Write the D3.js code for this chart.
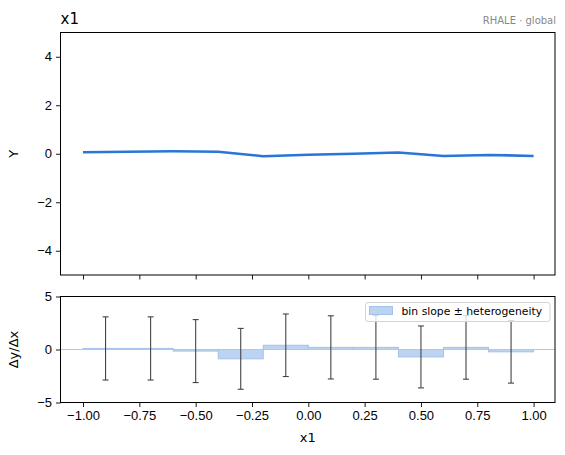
<!DOCTYPE html>
<html>
<head>
<meta charset="utf-8">
<script src="https://cdn.jsdelivr.net/npm/d3@7"></script>
<style>
  body { margin: 0; background: #fff; }
  svg { display: block; font-family: "DejaVu Sans", sans-serif; }
</style>
</head>
<body>
<div id="chart"></div>
<script>
// effect curve (top panel)
const gridX = [-1.0, -0.8, -0.6, -0.4, -0.2, 0.0, 0.2, 0.4, 0.6, 0.8, 1.0];
const effect = [0.06, 0.08, 0.1, 0.08, -0.1, -0.04, 0.0, 0.05, -0.09, -0.05, -0.09];

// bins (bottom panel)
const binLeft = [-1.0, -0.8, -0.6, -0.4, -0.2, 0.0, 0.2, 0.4, 0.6, 0.8];
const binRight = [-0.8, -0.6, -0.4, -0.2, 0.0, 0.2, 0.4, 0.6, 0.8, 1.0];
const binSlope = [0.1, 0.1, -0.15, -0.88, 0.4, 0.2, 0.2, -0.7, 0.2, -0.22];
const heterogeneity = [2.98, 2.98, 2.97, 2.87, 2.95, 2.98, 3.0, 2.92, 3.0, 2.95];

const xTicks = [-1.0, -0.75, -0.5, -0.25, 0.0, 0.25, 0.5, 0.75, 1.0];
const topYTicks = [-4, -2, 0, 2, 4];
const botYTicks = [-5, 0, 5];

const W = 565, H = 455;
const left = 60.5, right = 555;
const top1 = 32.5, bot1 = 275;
const top2 = 296.5, bot2 = 402.5;

const svg = d3.select('#chart').append('svg')
  .attr('width', W).attr('height', H);

const x = d3.scaleLinear().domain([-1.1, 1.095]).range([left, right]);
const y1 = d3.scaleLinear().domain([-5, 5]).range([bot1, top1]);
const y2 = d3.scaleLinear().domain([-5, 5]).range([bot2, top2]);

const fmt = d3.format('.2f');
const tickFont = '13px';

function styleAxis(g) {
  g.select('.domain').remove();
  g.selectAll('.tick line').attr('stroke', '#000').attr('stroke-width', 0.9);
  g.selectAll('.tick text').attr('fill', '#000').style('font-size', tickFont);
}

// ---- top panel ----
svg.append('g')
  .attr('transform', `translate(0,${bot1})`)
  .call(d3.axisBottom(x).tickValues(xTicks).tickSize(4.5).tickFormat(''))
  .call(styleAxis);

svg.append('g')
  .attr('transform', `translate(${left},0)`)
  .call(d3.axisLeft(y1).tickValues(topYTicks).tickSize(4.5).tickPadding(4))
  .call(styleAxis);

svg.append('path')
  .datum(gridX.map((d, i) => [d, effect[i]]))
  .attr('fill', 'none')
  .attr('stroke', '#2a76d6')
  .attr('stroke-width', 2.6)
  .attr('stroke-linejoin', 'round')
  .attr('d', d3.line().x(d => x(d[0])).y(d => y1(d[1])));

svg.append('rect')
  .attr('x', left).attr('y', top1)
  .attr('width', right - left).attr('height', bot1 - top1)
  .attr('fill', 'none').attr('stroke', '#000').attr('stroke-width', 1);

svg.append('text')
  .attr('x', left).attr('y', 24)
  .style('font-size', '15px')
  .text('x1');

svg.append('text')
  .attr('x', right + 1).attr('y', 24)
  .attr('text-anchor', 'end')
  .attr('fill', '#888')
  .style('font-size', '10px')
  .text('RHALE · global');

svg.append('text')
  .attr('transform', `translate(18,${(top1 + bot1) / 2}) rotate(-90)`)
  .attr('text-anchor', 'middle')
  .style('font-size', '13px')
  .text('Y');

// ---- bottom panel ----
svg.append('g')
  .attr('transform', `translate(0,${bot2})`)
  .call(d3.axisBottom(x).tickValues(xTicks).tickSize(4.5).tickPadding(4).tickFormat(fmt))
  .call(styleAxis);

svg.append('g')
  .attr('transform', `translate(${left},0)`)
  .call(d3.axisLeft(y2).tickValues(botYTicks).tickSize(4.5).tickPadding(4))
  .call(styleAxis);

const bins = binLeft.map((d, i) => ({
  x0: d, x1: binRight[i], s: binSlope[i], h: heterogeneity[i]
}));

svg.append('g').selectAll('rect')
  .data(bins)
  .join('rect')
  .attr('x', d => x(d.x0))
  .attr('width', d => x(d.x1) - x(d.x0))
  .attr('y', d => Math.min(y2(d.s), y2(0)))
  .attr('height', d => Math.abs(y2(d.s) - y2(0)))
  .attr('fill', '#bcd4f2')
  .attr('stroke', '#a3c2ea')
  .attr('stroke-width', 1);

svg.append('line')
  .attr('x1', left).attr('x2', right)
  .attr('y1', y2(0)).attr('y2', y2(0))
  .attr('stroke', '#c4c4c4').attr('stroke-width', 1.1);

const eb = svg.append('g').attr('stroke', '#444').attr('stroke-width', 1.1);
bins.forEach(d => {
  const cx = x((d.x0 + d.x1) / 2);
  const yt = y2(d.s + d.h), yb = y2(d.s - d.h);
  eb.append('line').attr('x1', cx).attr('x2', cx).attr('y1', yt).attr('y2', yb);
  eb.append('line').attr('x1', cx - 3).attr('x2', cx + 3).attr('y1', yt).attr('y2', yt);
  eb.append('line').attr('x1', cx - 3).attr('x2', cx + 3).attr('y1', yb).attr('y2', yb);
});

svg.append('rect')
  .attr('x', left).attr('y', top2)
  .attr('width', right - left).attr('height', bot2 - top2)
  .attr('fill', 'none').attr('stroke', '#000').attr('stroke-width', 1);

// legend
const lg = svg.append('g').attr('transform', 'translate(365.5,302.5)');
lg.append('rect')
  .attr('width', 184.5).attr('height', 19)
  .attr('rx', 2.5)
  .attr('fill', 'rgba(255,255,255,0.8)')
  .attr('stroke', '#d4d4d4');
lg.append('rect')
  .attr('x', 4).attr('y', 4).attr('width', 23).attr('height', 8)
  .attr('fill', '#bcd4f2').attr('stroke', '#a3c2ea');
lg.append('text')
  .attr('x', 36).attr('y', 12.5)
  .style('font-size', '10.8px')
  .text('bin slope ± heterogeneity');

svg.append('text')
  .attr('transform', `translate(18,${(top2 + bot2) / 2}) rotate(-90)`)
  .attr('text-anchor', 'middle')
  .style('font-size', '13px')
  .text('Δy/Δx');

svg.append('text')
  .attr('x', (left + right) / 2).attr('y', 442)
  .attr('text-anchor', 'middle')
  .style('font-size', '13px')
  .text('x1');
</script>
</body>
</html>
